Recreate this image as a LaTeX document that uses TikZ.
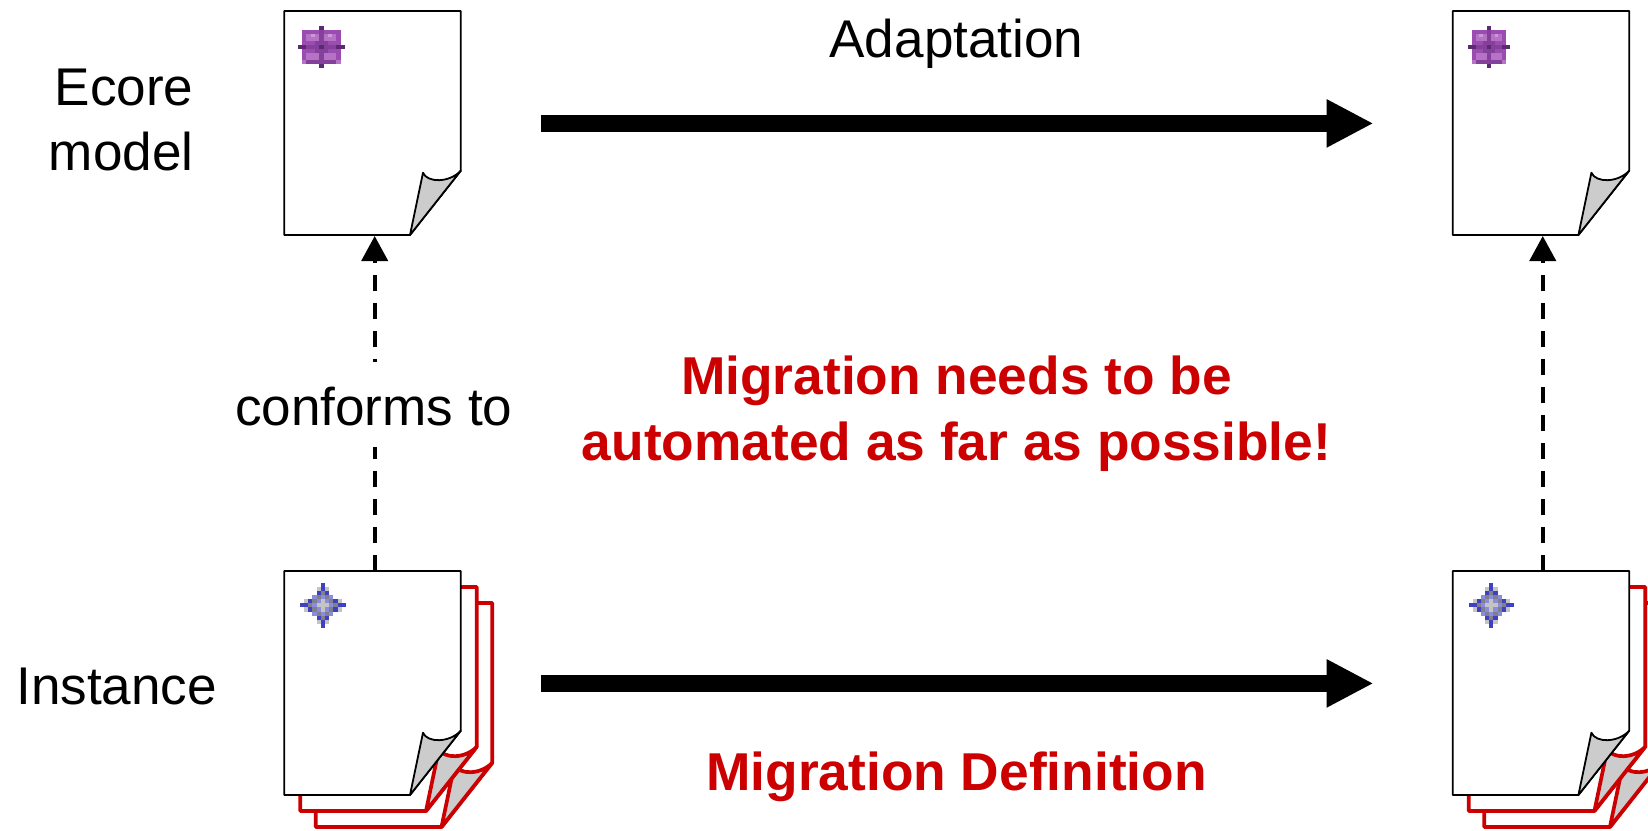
\documentclass[tikz,border=0pt]{standalone}
\usepackage{fontspec}
\setmainfont{Liberation Sans}
\usetikzlibrary{arrows.meta}
\definecolor{redx}{HTML}{CC0000}
\definecolor{foldgrey}{HTML}{CCCCCC}
\definecolor{icW}{HTML}{FFFFFF}
\definecolor{icD}{HTML}{5C2A72}
\definecolor{icE}{HTML}{85409C}
\definecolor{icM}{HTML}{9A4CB0}
\definecolor{icL}{HTML}{B673C6}
\definecolor{icX}{HTML}{C99BD6}
\definecolor{icB}{HTML}{4040C4}
\definecolor{icP}{HTML}{8C8CDC}
\definecolor{icG}{HTML}{808088}
\definecolor{icS}{HTML}{C4C4C4}
\tikzset{
  x=1pt,y=-1pt,
  sheet/.style={line join=round,fill=white,draw=#1},
  sheetfold/.style={line join=round,fill=foldgrey,draw=#1},
  anchorbox/.style={inner sep=0pt,outer sep=0pt,minimum width=176.5pt,minimum height=224pt,anchor=north west},
  bigarrow/.style={line width=16.5pt,-{Triangle[length=47pt,width=45pt]}},
  conforms/.style={line width=4pt,dash pattern=on 16pt off 12pt,-{Triangle[length=25pt,width=26pt]},shorten >=1pt},
  label/.style={font=\fontsize{53.1}{65}\selectfont,inner sep=0pt,outer sep=0pt},
  redlabel/.style={label,font=\fontsize{53.3}{66}\selectfont\bfseries,text=redx},
}
\newcommand{\sheetat}[4]{%
  \begin{scope}[shift={(#1,#2)},line width=#4pt]
    \draw[sheet=#3] (0,0) -- (176.5,0) -- (176.5,159.7) -- (125.7,224) -- (0,224) -- cycle;
    \draw[sheetfold=#3] (125.7,224) -- (138.7,161.7) .. controls (143,172) and (165,172) .. (176.5,159.7) -- cycle;
  \end{scope}}
\newcommand{\pixicon}[5]{%
  \foreach \rowlist [count=\j from 0] in {#5}{%
    \foreach \cellc [count=\i from 0] in \rowlist{%
      \fill[color=ic\cellc] ({#1+\i*#3-0.1},{#2+\j*#4-0.1}) rectangle ({#1+(\i+1)*#3+0.1},{#2+(\j+1)*#4+0.1});
    }}}
\newcommand{\purpleicon}[4]{\pixicon{#1}{#2}{#3}{#4}{%
  {W,W,W,W,W,D,W,W,W,W,W},
  {W,M,M,M,M,E,M,M,M,M,W},
  {W,M,L,X,L,E,L,X,L,M,W},
  {W,M,L,L,L,E,L,L,L,M,W},
  {W,M,M,M,E,E,E,M,M,M,W},
  {D,D,E,E,E,D,E,E,E,D,D},
  {W,M,M,M,E,E,E,M,M,M,W},
  {W,M,L,L,L,E,L,L,L,M,W},
  {W,M,L,L,L,E,L,L,L,M,W},
  {W,L,E,E,E,E,E,E,E,L,W},
  {W,W,W,W,W,D,W,W,W,W,W}}}
\newcommand{\blueicon}[4]{\pixicon{#1}{#2}{#3}{#4}{%
  {W,W,W,W,W,B,W,W,W,W,W},
  {W,W,W,W,S,B,S,W,W,W,W},
  {W,W,W,W,B,G,B,W,W,W,W},
  {W,W,W,P,G,P,G,P,W,W,W},
  {W,S,B,G,P,S,P,G,B,S,W},
  {B,B,G,P,S,S,S,P,G,B,B},
  {W,S,B,G,P,S,P,G,B,S,W},
  {W,W,W,P,G,P,G,P,W,W,W},
  {W,W,W,W,B,G,B,W,W,W,W},
  {W,W,W,W,S,B,S,W,W,W,W},
  {W,W,W,W,W,B,W,W,W,W,W}}}
\begin{document}
\begin{tikzpicture}
\useasboundingbox (0,0) rectangle (1648,830);
\clip (0,0) rectangle (1648,830);
\fill[white] (0,0) rectangle (1648,830);

% stacks behind the instance pages
\sheetat{315.8}{603}{redx}{3.7}
\sheetat{300.3}{587}{redx}{3.7}
\sheetat{1484.2}{603}{redx}{3.7}
\sheetat{1468.7}{587}{redx}{3.7}

% main pages
\sheetat{284.3}{11}{black}{1.8}
\sheetat{1452.7}{11}{black}{1.8}
\sheetat{284.3}{571}{black}{1.8}
\sheetat{1452.7}{571}{black}{1.8}

\node[anchorbox] (modelA) at (284.3,11) {};
\node[anchorbox] (modelB) at (1452.7,11) {};
\node[anchorbox] (instA) at (284.3,571) {};
\node[anchorbox] (instB) at (1452.7,571) {};

\purpleicon{298}{26}{4.27}{3.82}
\purpleicon{1468}{26}{3.82}{3.82}
\blueicon{300}{583}{4.18}{4.09}
\blueicon{1469}{583}{4.09}{4.09}

% horizontal arrows
\coordinate (adaptS) at (540.5,123.4);
\coordinate (adaptT) at (1373.5,123.4);
\coordinate (migrS) at (540.5,683.4);
\coordinate (migrT) at (1373.5,683.4);
\draw[bigarrow] (adaptS) -- (adaptT);
\draw[bigarrow] (migrS) -- (migrT);

% conforms-to arrows
\draw[conforms] ([xshift=2.15pt]instA.north) -- ([xshift=2.15pt]modelA.south);
\draw[conforms] ([xshift=1.8pt]instB.north) -- ([xshift=1.8pt]modelB.south);

% labels
\node[label,fill=white,anchor=base,text height=63pt,text depth=22pt] (conf) at (373.7,425) {conforms to};
\node[label,anchor=base] (adapt) at (956.5,57) {Adaptation};
\node[label,anchor=base] (inst) at (116.7,704) {Instance};
\node[label,align=right,anchor=east] (ecore) at (193.5,120) {Ecore\\model};
\node[redlabel,align=center,anchor=center] (need) at (956.5,414) {Migration needs to be\\automated as far as possible!};
\node[redlabel,anchor=base] (mdef) at (956.5,790) {Migration Definition};
\end{tikzpicture}
\end{document}
